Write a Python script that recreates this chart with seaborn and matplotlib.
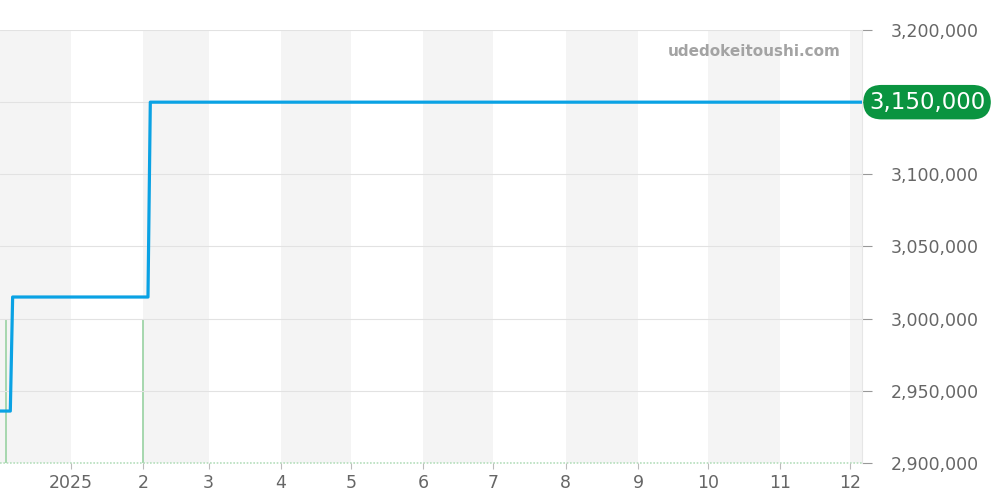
import numpy as np
import pandas as pd
import seaborn as sns
import matplotlib.pyplot as plt
import matplotlib.dates as mdates

# price history (step changes)
price_dates = ["2024-12-01", "2024-12-06", "2024-12-07", "2025-02-03", "2025-02-04", "2025-12-06"]
prices = [2936000, 2936000, 3015000, 3015000, 3150000, 3150000]

# listing events (green bars)
event_dates = ["2024-12-04", "2025-02-01"]
event_counts = [1, 1]

month_starts = pd.date_range("2024-12-01", "2025-12-01", freq="MS")
tick_labels = ["2025", "2", "3", "4", "5", "6", "7", "8", "9", "10", "11", "12"]
y_ticks = [2900000, 2950000, 3000000, 3050000, 3100000, 3150000, 3200000]

sns.set_style("white")
plt.rcParams['font.family'] = ['DejaVu Sans']

df = pd.DataFrame({"date": pd.to_datetime(price_dates), "price": prices})
ev = pd.DataFrame({"date": pd.to_datetime(event_dates), "count": event_counts})

fig = plt.figure(figsize=(10, 5), dpi=100)
ax = fig.add_axes([0.0, 0.074, 0.862, 0.866])

x_min = pd.Timestamp("2024-12-01 14:00")
x_max = pd.Timestamp("2025-12-06")

# event bars on a twin axis (drawn underneath the price axis)
ax2 = ax.twinx()
ax2.set_ylim(0, 3.03)

# alternating month bands
for i, m in enumerate(month_starts):
    if i % 2 == 0:
        end = month_starts[i + 1] if i + 1 < len(month_starts) else x_max
        ax2.axvspan(max(m, x_min), end, color="#f4f4f4", lw=0, zorder=0)

ax2.vlines(ev["date"], 0, ev["count"], color="#9fd4a8", lw=1.3, zorder=2)
ax2.axhline(0, color="#b5dfbc", lw=1.2, ls=(0, (1, 1)), zorder=2, clip_on=False)
ax2.set_yticks([])
for s in ax2.spines.values():
    s.set_visible(False)

ax.set_ylim(2900000, 3200000)
ax.set_yticks(y_ticks)
ax.grid(axis="y", color="#e2e2e2", lw=0.8)
ax.set_axisbelow(True)

sns.lineplot(data=df, x="date", y="price", ax=ax, color="#0aa2e4", lw=2.3, zorder=5)
ax.set_zorder(ax2.get_zorder() + 1)
ax.patch.set_visible(False)

ax.set_xlim(x_min, x_max)
ax2.set_xlim(x_min, x_max)
ax.set_xticks(month_starts[1:])
ax.set_xticklabels(tick_labels)
ax.yaxis.tick_right()
# the 3,150,000 label sits under the badge
ax.set_yticklabels(["" if v == prices[-1] else f"{v:,.0f}" for v in y_ticks])
ax.tick_params(axis="y", length=7, width=0.8, color="#999999", pad=14,
               labelsize=12.5, labelcolor="#666666", right=True, left=False)
ax.tick_params(axis="x", length=4, width=0.8, color="#bbbbbb", pad=4,
               labelsize=12.5, labelcolor="#666666", bottom=True)
for lab in ax.get_yticklabels():
    lab.set_horizontalalignment("left")
ax.set_xlabel("")
ax.set_ylabel("")
for k in ["top", "left", "bottom"]:
    ax.spines[k].set_visible(False)
ax.spines["right"].set_color("#e6e6e6")
ax.spines["right"].set_linewidth(0.8)

# last price badge
ax.text(1.008, prices[-1], f"{prices[-1]:,}", transform=ax.get_yaxis_transform(),
        ha="left", va="center", fontsize=16.5, color="white", zorder=10,
        bbox=dict(boxstyle="round,pad=0.25,rounding_size=0.8", fc="#0a9440", ec="none"),
        clip_on=False)

ax.text(0.975, 0.95, "udedokeitoushi.com", transform=ax.transAxes, ha="right", va="center",
        fontsize=11, fontweight="bold", color="#a3a3a3")

fig.savefig("out.png", dpi=100)
